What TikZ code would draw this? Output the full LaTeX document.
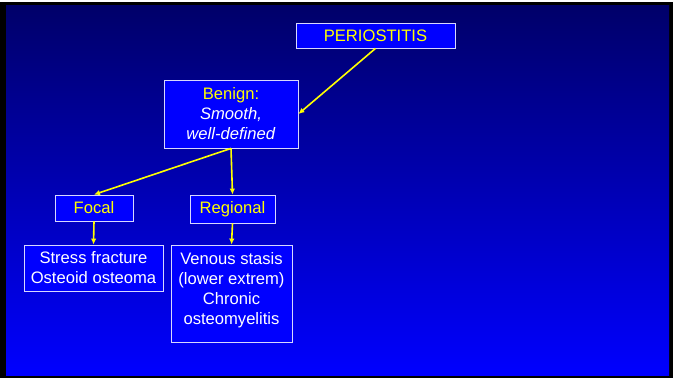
\documentclass[tikz,border=0pt]{standalone}
\usepackage{fontspec}
\setmainfont{Liberation Sans}
\usetikzlibrary{arrows.meta,positioning}
\definecolor{slidenavy}{RGB}{0,0,105}
\definecolor{boxblue}{RGB}{0,0,255}
\definecolor{boxline}{RGB}{215,215,255}
\definecolor{txtyellow}{RGB}{255,255,0}

\begin{document}
\begin{tikzpicture}[x=1pt,y=-1pt,font=\fontsize{16.6}{20}\selectfont,
  box/.style={draw=boxline,line width=0.8pt,fill=boxblue,inner sep=0pt,align=center},
  head/.style={box,text=txtyellow},
  body/.style={box,text=white},
  link/.style={-{Latex[length=6pt,width=5.5pt]},txtyellow,line width=1.6pt}]
\useasboundingbox (0,0) rectangle (673,378);
\fill[black] (0,2) rectangle (673,378);
\shade[top color=slidenavy,bottom color=boxblue] (6,5) rectangle (669,375);
\node[head,minimum width=159pt,minimum height=25pt] (peri) at (375.5,35.5) {PERIOSTITIS};
\node[body,minimum width=134pt,minimum height=68pt] (benign) at (231,114) {{\color{txtyellow}Benign:}\\\textit{Smooth,}\\\textit{well-defined}};
\node[head,minimum width=78pt,minimum height=26pt] (focal) at (94,208) {Focal};
\node[head,minimum width=85pt,minimum height=28pt] (regional) at (232.5,209) {Regional};
\node[body,minimum width=139pt,minimum height=46pt] (focalcases) at (93.5,268) {Stress fracture\\Osteoid osteoma};
\node[body,minimum width=121pt,minimum height=97pt] (regionalcases) at (231.5,293.5) {Venous stasis\\(lower extrem)\\Chronic\\osteomyelitis\rule[-11pt]{0pt}{0pt}};
\draw[link] (peri.south) -- (benign.east);
\draw[link] (benign.south) -- (focal.north);
\draw[link] (benign.south) -- (regional.north);
\draw[link] (focal.south) -- (focalcases.north);
\draw[link] (regional.south) -- (regionalcases.north);
\end{tikzpicture}
\end{document}
